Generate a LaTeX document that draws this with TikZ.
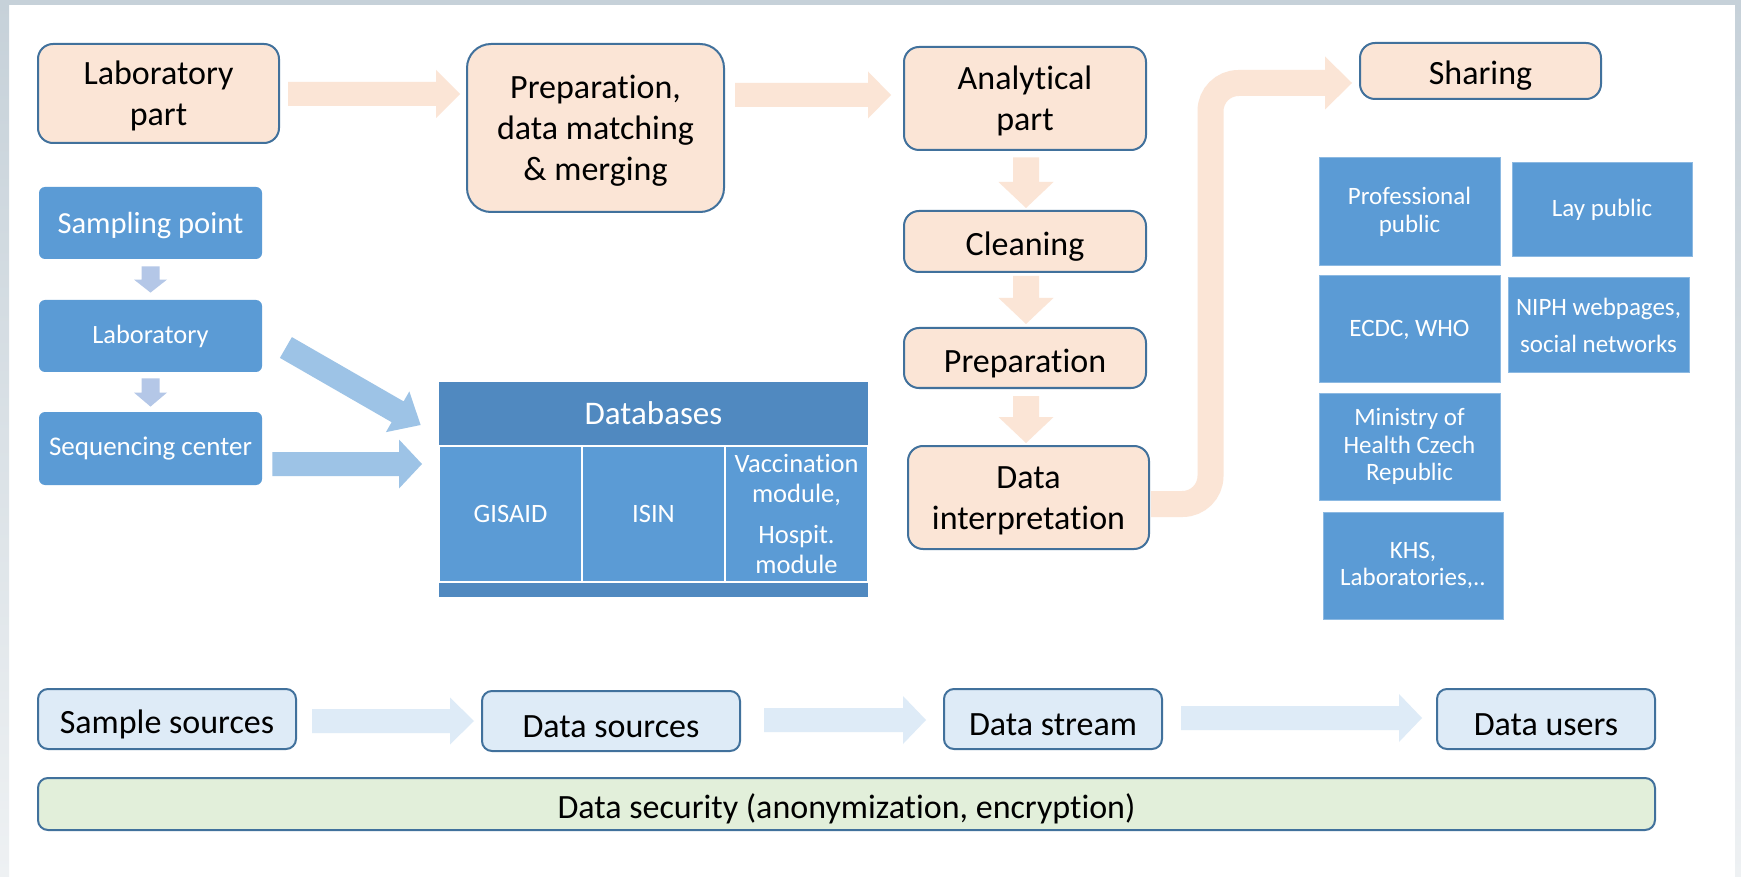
\documentclass[tikz,border=0pt]{standalone}
\usepackage{fontspec}
\setmainfont{Carlito}[Ligatures=NoCommon]
\usetikzlibrary{calc}
\definecolor{peachC}{HTML}{FBE5D6}
\definecolor{borderC}{HTML}{41719C}
\definecolor{blueC}{HTML}{5B9BD5}
\definecolor{dbdark}{HTML}{5089C0}
\definecolor{arrC}{HTML}{9DC3E6}
\definecolor{smallC}{HTML}{B4C7E7}
\definecolor{lightC}{HTML}{DEEBF7}
\definecolor{greenC}{HTML}{E2EFDA}
\definecolor{frameC}{HTML}{C6D1D9}
\definecolor{frameL}{HTML}{EEF1F3}
\newcommand\barrow[6]{%
  \coordinate (bH) at ($(#2)!#5!(#1)$);
  \fill[#6] ($(#1)!#3!90:(#2)$) -- ($(bH)!#3!90:(#2)$) -- ($(bH)!#4!90:(#2)$) -- (#2)
    -- ($(bH)!#4!-90:(#2)$) -- ($(bH)!#3!-90:(#2)$) -- ($(#1)!#3!-90:(#2)$) -- cycle;}
\newcommand\mlines[2][18pt]{\begin{tabular}{@{}c@{}}\rule{0pt}{#1}#2\end{tabular}}
\tikzset{
  sz/.style 2 args={minimum width=#1, minimum height=#2},
  lower/.style={execute at begin node={\rule{0pt}{#1}}},
  peachbox/.style={draw=borderC, line width=1pt, fill=peachC, rounded corners=7.5pt, align=center,
    inner sep=0pt, font=\fontsize{17}{20.5}\selectfont, lower=16.75pt},
  multi/.style={lower=0pt},
  bluebox/.style={fill=blueC, rounded corners=3pt, text=white, align=center, inner sep=0pt},
  pubbox/.style={fill=blueC, draw=blueC!70!white, line width=0.5pt, text=white, align=center,
    inner sep=0pt, font=\fontsize{12.5}{13.75}\selectfont},
  lbox/.style={draw=borderC, line width=1pt, fill=lightC, rounded corners=5pt, inner sep=0pt,
    font=\fontsize{17}{20.5}\selectfont, lower=16.75pt},
  dbcell/.style={fill=blueC, draw=white, line width=1pt, text=white, align=center, inner sep=0pt,
    font=\fontsize{13.25}{14.75}\selectfont},
}
\begin{document}
\begin{tikzpicture}[x=0.5pt,y=-0.5pt]
\useasboundingbox (0,0) rectangle (1741,877);
\fill[white] (0,0) rectangle (1741,877);
\shade[top color=frameC, bottom color=frameL] (0,0) rectangle (9,877);
\shade[top color=frameC, bottom color=frameL] (1735,0) rectangle (1741,877);
\fill[frameC] (0,0) rectangle (1741,5);

% peach flow
\node[peachbox, multi, sz={120.5pt}{49.5pt}] (labpart) at (158.5,93.5) {\mlines{Laboratory\\part}};
\node[peachbox, multi, rounded corners=12pt, sz={128.5pt}{84pt}] (prep) at (595.5,128) {\mlines[17.2pt]{Preparation,\\data matching\\\& merging}};
\node[peachbox, multi, sz={121pt}{51.5pt}] (anal) at (1025,98.5) {\mlines{Analytical\\part}};
\node[peachbox, sz={121pt}{30.5pt}] (clean) at (1025,241.5) {Cleaning};
\node[peachbox, sz={121pt}{30pt}] (prepn) at (1025,358) {Preparation};
\node[peachbox, multi, sz={120.5pt}{51.5pt}] (interp) at (1028.5,497.5) {\mlines[17.9pt]{Data\\interpretation}};
\node[peachbox, sz={120.5pt}{28pt}] (sharing) at (1480.5,71) {Sharing};

% left blue
\node[bluebox, sz={111.5pt}{36pt}, font=\fontsize{15.3}{18}\selectfont, lower=13.5pt] (sampling) at (150.5,223) {Sampling point};
\node[bluebox, sz={111.5pt}{36pt}, font=\fontsize{13.2}{16}\selectfont] (laboratory) at (150.5,336) {Laboratory};
\node[bluebox, sz={111.5pt}{36.5pt}, font=\fontsize{13.5}{16}\selectfont] (seq) at (150.5,448.5) {Sequencing center};

% databases
\node[fill=dbdark, sz={214.5pt}{31.5pt}, text=white, font=\fontsize{16.5}{20}\selectfont, inner sep=0pt] (dbhead) at (653.5,413.5) {Databases};
\node[dbcell, sz={71.5pt}{68pt}] (gisaid) at (510.5,514) {GISAID};
\node[dbcell, sz={71.5pt}{68pt}] (isin) at (653.5,514) {ISIN};
\node[dbcell, sz={71.5pt}{68pt}] (vacc) at (796.5,514) {Vaccination\\module,\\[6pt]Hospit.\\module};
\node[fill=dbdark, sz={214.5pt}{7pt}, inner sep=0pt] (dbfoot) at (653.5,590) {};

% publics
\node[pubbox, sz={90.5pt}{54pt}] (prof) at (1409.5,212) {Professional\\public};
\node[pubbox, sz={90pt}{47pt}] (lay) at (1602,210) {Lay public};
\node[pubbox, sz={90.5pt}{53.5pt}] (ecdc) at (1409.5,329.5) {ECDC, WHO};
\node[pubbox, sz={90.5pt}{47.5pt}] (niph) at (1598.5,325.5) {NIPH webpages,\\[5pt]social networks};
\node[pubbox, sz={90.5pt}{53.5pt}] (ministry) at (1409.5,446.5) {Ministry of\\Health Czech\\Republic};
\node[pubbox, sz={90pt}{53.5pt}] (khs) at (1413,565.5) {KHS,\\Laboratories,..};

% bottom row
\node[lbox, sz={129pt}{30pt}] (ss) at (167,719) {Sample sources};
\node[lbox, sz={129pt}{30pt}] (ds) at (611,721) {Data sources};
\node[lbox, sz={109pt}{30pt}] (dst) at (1053,719) {Data stream};
\node[lbox, sz={109pt}{30pt}] (du) at (1546,719) {Data users};
\node[lbox, fill=greenC, sz={808.5pt}{26pt}] (sec) at (846.5,804) {Data security (anonymization, encryption)};

% peach arrows
\coordinate (a1s) at ($(labpart.east)+(8,0.5)$);
\coordinate (a1e) at ($(prep.west|-a1s)+(-6,0)$);
\barrow{a1s}{a1e}{6pt}{12pt}{12pt}{peachC}
\coordinate (a2s) at ($(prep.east|-anal.west)+(10,-3.5)$);
\coordinate (a2e) at ($(anal.west)+(-12,-3.5)$);
\barrow{a2s}{a2e}{6pt}{11.75pt}{11.5pt}{peachC}
\coordinate (a3s) at ($(anal.south)+(1,6.5)$);
\coordinate (a3e) at ($(clean.north)+(1,-2)$);
\barrow{a3s}{a3e}{6.5pt}{13.75pt}{13pt}{peachC}
\coordinate (a4s) at ($(clean.south)+(1,3)$);
\coordinate (a4e) at ($(prepn.north)+(1,-3)$);
\barrow{a4s}{a4e}{6.5pt}{13.75pt}{13pt}{peachC}
\coordinate (a5s) at ($(prepn.south)+(1,7)$);
\coordinate (a5e) at ($(interp.north)+(-2.5,-2)$);
\barrow{a5s}{a5e}{6.5pt}{13.75pt}{13pt}{peachC}

% curved arrow to sharing
\coordinate (k0) at ($(interp.east)+(1,6.5)$);
\coordinate (kx) at ($(interp.east)+(60.5,0)$);
\coordinate (k1) at ($(sharing.west)+(-34,12)$);
\coordinate (k2) at ($(sharing.west)+(-7,12)$);
\draw[peachC, line width=13pt, rounded corners=14pt] (k0) -- (k0-|kx) -- (kx|-k1) -- ($(k1)+(1,0)$);
\barrow{k1}{k2}{6.75pt}{13.25pt}{13.5pt}{peachC}

% left blue arrows
\coordinate (b1s) at ($(sampling.south)+(0,7)$);
\coordinate (b1e) at ($(laboratory.north)+(0,-7)$);
\barrow{b1s}{b1e}{4.5pt}{8.25pt}{6.5pt}{smallC}
\coordinate (b2s) at ($(laboratory.south)+(0,6)$);
\coordinate (b2e) at ($(seq.north)+(0,-5)$);
\barrow{b2s}{b2e}{4.5pt}{8.25pt}{7pt}{smallC}
\coordinate (b3s) at ($(laboratory.east)+(23.5,11.5)$);
\coordinate (b3e) at ($(dbhead.west)+(-18,11.5)$);
\barrow{b3s}{b3e}{6pt}{11.75pt}{13.25pt}{arrC}
\coordinate (b4s) at ($(seq.east)+(10,15.5)$);
\coordinate (b4e) at ($(gisaid.west|-b4s)+(-16,0)$);
\barrow{b4s}{b4e}{6pt}{12.25pt}{11.5pt}{arrC}

% bottom arrows
\coordinate (c1s) at ($(ss.east)+(15,2)$);
\coordinate (c1e) at ($(ds.west)+(-7,0)$);
\barrow{c1s}{c1e}{6pt}{11.75pt}{12pt}{lightC}
\coordinate (c2s) at ($(ds.east)+(23,-1)$);
\coordinate (c2e) at ($(dst.west)+(-17,1)$);
\barrow{c2s}{c2e}{6pt}{12pt}{11.5pt}{lightC}
\coordinate (c3s) at ($(dst.east)+(18,-1)$);
\coordinate (c3e) at ($(du.west)+(-14,-1)$);
\barrow{c3s}{c3e}{6pt}{12pt}{11.5pt}{lightC}
\end{tikzpicture}
\end{document}
